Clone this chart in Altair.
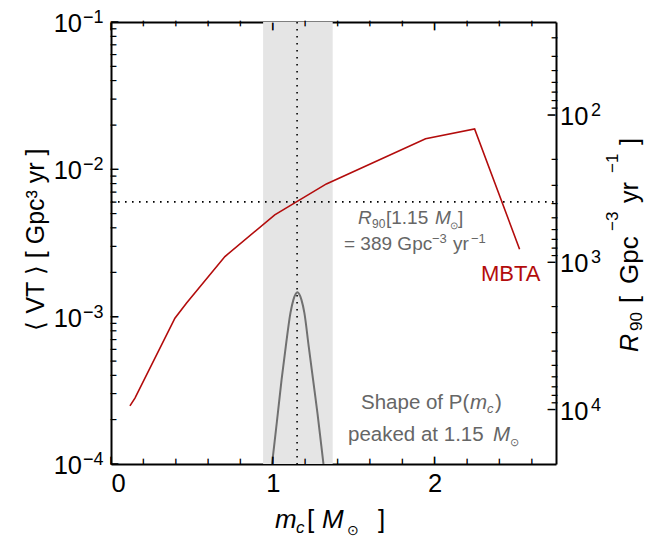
import altair as alt
import pandas as pd

# ---------------- data ----------------
mc_mbta = [0.117, 0.148, 0.395, 0.467, 0.704, 1.012, 1.331, 1.944, 2.247, 2.525]
vt_mbta = [2.48e-4, 2.80e-4, 9.77e-4, 1.24e-3, 2.56e-3, 4.91e-3, 7.96e-3, 1.615e-2, 1.88e-2, 2.87e-3]

mc_shape = [0.995, 1.008, 1.031, 1.054, 1.080, 1.109, 1.127, 1.142, 1.152, 1.162, 1.177, 1.195, 1.222, 1.249, 1.276, 1.300, 1.313]
p_shape = [1.0e-4, 1.32e-4, 2.21e-4, 3.72e-4, 6.26e-4, 1.06e-3, 1.30e-3, 1.43e-3, 1.466e-3, 1.43e-3, 1.30e-3, 1.06e-3, 6.26e-4, 3.72e-4, 2.21e-4, 1.32e-4, 1.0e-4]

band = [0.94, 1.37]
mc_peak = 1.15
r90_peak = 389
K = 2.34  # R90 = K / <VT>

x_domain = [0, 2.75]
vt_domain = [1e-4, 1e-1]
r_domain = [K / 1e-1, K / 1e-4]

x_major = [0, 1, 2]
x_minor = [0.2, 0.4, 0.6, 0.8, 1.2, 1.4, 1.6, 1.8, 2.2, 2.4, 2.6]
vt_major = [1e-4, 1e-3, 1e-2, 1e-1]
vt_exp = ["−4", "−3", "−2", "−1"]
vt_minor = [m * 10.0 ** e for e in (-4, -3, -2) for m in range(2, 10)]
r_major = [100, 1000, 10000]
r_exp = ["2", "3", "4"]
r_minor = [30, 40, 50, 60, 70, 80, 90, 200, 300, 400, 500, 600, 700, 800, 900,
           2000, 3000, 4000, 5000, 6000, 7000, 8000, 9000]

RED = "#b30c0c"
GRAY_TXT = "#666666"
FONT = "Liberation Sans"
W, H = 445, 442
MAJ, MIN = 8, 4.5          # tick lengths (px)
FS_MAJ, FS_MIN = 8.0, 4.6  # font sizes of the "|" glyph that draws them


def xs():
    return alt.Scale(domain=x_domain, nice=False, zero=False)


def ys():
    return alt.Scale(type="log", domain=vt_domain, nice=False)


def rs():
    return alt.Scale(type="log", domain=r_domain, nice=False, reverse=True)


x_axis_bottom = alt.Axis(values=x_major, orient="bottom", title=None, grid=False,
                         ticks=False, labelPadding=7, format="d")
x_axis_top = alt.Axis(orient="top", title=None, grid=False, labels=False, ticks=False)
y_axis_left = alt.Axis(orient="left", grid=False, labels=False, ticks=False,
                       title="⟨ VT ⟩ [ Gpc³ yr ]", titleAngle=270, titleX=-76, titleY=217,
                       titleAlign="center", titleBaseline="middle", titleFontSize=25)
y_axis_right = alt.Axis(orient="right", grid=False, labels=False, ticks=False, title=None)

df_mbta = pd.DataFrame({"mc": mc_mbta, "vt": vt_mbta})
df_shape = pd.DataFrame({"mc": mc_shape, "vt": p_shape})
df_band = pd.DataFrame({"lo": [band[0]], "hi": [band[1]]})
df_v = pd.DataFrame({"mc": [mc_peak]})
df_h = pd.DataFrame({"x0": [x_domain[0]], "x1": [x_domain[1]], "r": [r90_peak]})
one = pd.DataFrame({"a": [0]})

band_l = alt.Chart(df_band).mark_rect(color="#e5e5e5").encode(
    x=alt.X("lo:Q", scale=xs(), axis=x_axis_bottom), x2="hi:Q")
vline = alt.Chart(df_v).mark_rule(color="black", strokeDash=[1.6, 5.4], strokeWidth=1.6).encode(
    x=alt.X("mc:Q", scale=xs(), axis=x_axis_bottom))
mbta = alt.Chart(df_mbta).mark_line(color=RED, strokeWidth=1.6).encode(
    x=alt.X("mc:Q", scale=xs(), axis=x_axis_bottom),
    y=alt.Y("vt:Q", scale=ys(), axis=y_axis_left))
shape = alt.Chart(df_shape).mark_line(color="#707070", strokeWidth=2, clip=True,
                                      interpolate="monotone").encode(
    x=alt.X("mc:Q", scale=xs(), axis=x_axis_bottom),
    y=alt.Y("vt:Q", scale=ys(), axis=y_axis_left))


def pow_labels(vals, exps, scale, axis, x_base, x_exp):
    df = pd.DataFrame({"v": vals, "e": exps})
    base = alt.Chart(df).mark_text(text="10", font=FONT, fontSize=25.5,
                                   align="right" if x_base < 0 else "left",
                                   baseline="alphabetic", dy=10, color="black").encode(
        y=alt.Y("v:Q", scale=scale, axis=axis), x=alt.value(x_base))
    sup = alt.Chart(df).mark_text(font=FONT, fontSize=18, align="left",
                                  baseline="alphabetic", dy=1, color="black").encode(
        y=alt.Y("v:Q", scale=scale, axis=axis), x=alt.value(x_exp), text="e:N")
    return [base, sup]


# frame ticks pointing inward: a short bar glyph placed through the scales
def hticks(vals, scale, axis, xc, fs):
    return alt.Chart(pd.DataFrame({"v": vals})).mark_text(
        text="|", font=FONT, fontSize=fs, angle=90, align="center", baseline="middle",
        color="black", stroke="black", strokeWidth=0.8).encode(
        y=alt.Y("v:Q", scale=scale, axis=axis), x=alt.value(xc))


def vticks(vals, yc, fs):
    return alt.Chart(pd.DataFrame({"v": vals})).mark_text(
        text="|", font=FONT, fontSize=fs, align="center", baseline="middle",
        color="black", stroke="black", strokeWidth=0.8).encode(
        x=alt.X("v:Q", scale=xs(), axis=x_axis_bottom), y=alt.value(yc))


main = alt.layer(
    band_l, vline, shape, mbta,
    hticks(vt_major, ys(), y_axis_left, MAJ / 2, FS_MAJ),
    hticks(vt_minor, ys(), y_axis_left, MIN / 2, FS_MIN),
    vticks(x_major, H - MAJ / 2, FS_MAJ), vticks(x_minor, H - MIN / 2, FS_MIN),
    vticks(x_major, MAJ / 2, FS_MAJ), vticks(x_minor, MIN / 2, FS_MIN),
    *pow_labels(vt_major, vt_exp, ys(), y_axis_left, -29, -28),
)

hline = alt.Chart(df_h).mark_rule(color="black", strokeDash=[1.6, 5.4], strokeWidth=1.6).encode(
    x=alt.X("x0:Q", scale=xs(), axis=x_axis_top), x2="x1:Q",
    y=alt.Y("r:Q", scale=rs(), axis=y_axis_right))

right = alt.layer(
    hline,
    hticks(r_major, rs(), y_axis_right, W - MAJ / 2, FS_MAJ),
    hticks(r_minor, rs(), y_axis_right, W - MIN / 2, FS_MIN),
    *pow_labels(r_major, r_exp, rs(), y_axis_right, W + 4, W + 35),
)

# ---------------- text pieces (page px -> plot px) ----------------
OX, OY = 111, 22


def piece(txt, px, py, size, italic=False, color="black", angle=0):
    kw = dict(text=txt, font=FONT, fontSize=size, color=color, align="left",
              baseline="alphabetic")
    if italic:
        kw["fontStyle"] = "italic"
    if angle:
        kw["angle"] = angle
    return alt.Chart(one).mark_text(**kw).encode(x=alt.value(px - OX), y=alt.value(py - OY))


texts = [
    # x-axis title
    piece("m", 275, 528, 26, True),
    piece("c", 296, 533, 17, True),
    piece("[", 307, 528, 26),
    piece("M", 322, 528, 26, True),
    piece("⊙", 347, 535, 14),
    piece("]", 378, 528, 26),
    # right-axis title (rotated, reads upward)
    piece("R", 638, 352, 25, True, angle=270),
    piece("90", 642, 331, 17, angle=270),
    piece("[", 638, 303, 25, angle=270),
    piece("Gpc", 638, 284, 26, angle=270),
    piece("−3", 618, 231, 17, angle=270),
    piece("yr", 638, 203, 25, angle=270),
    piece("−1", 618, 173, 17, angle=270),
    piece("]", 638, 145, 25, angle=270),
    # annotation: R90[1.15 M]
    piece("R", 358, 224, 19, True, GRAY_TXT),
    piece("90", 372, 228, 12, False, GRAY_TXT),
    piece("[1.15", 386, 224, 19, False, GRAY_TXT),
    piece("M", 435, 224, 19, True, GRAY_TXT),
    piece("⊙", 450, 229, 10, False, GRAY_TXT),
    piece("]", 458, 224, 19, False, GRAY_TXT),
    piece("= 389 Gpc", 344, 250, 19, False, GRAY_TXT),
    piece("−3", 432, 243, 13, False, GRAY_TXT),
    piece("yr", 453, 250, 19, False, GRAY_TXT),
    piece("−1", 471, 243, 13, False, GRAY_TXT),
    # MBTA
    piece("MBTA", 481, 281, 22, False, RED),
    # shape annotation
    piece("Shape of P(", 361, 409, 20.5, False, GRAY_TXT),
    piece("m", 470, 409, 20.5, True, GRAY_TXT),
    piece("c", 487, 413, 13, True, GRAY_TXT),
    piece(")", 495, 409, 20.5, False, GRAY_TXT),
    piece("peaked at 1.15", 348, 441, 20.5, False, GRAY_TXT),
    piece("M", 493, 441, 20.5, True, GRAY_TXT),
    piece("⊙", 510, 446, 11, False, GRAY_TXT),
]

chart = alt.layer(main, right, *texts).resolve_scale(
    x="independent", y="independent").properties(
    width=W, height=H,
    autosize=alt.AutoSizeParams(type="none"),
    padding={"left": 103, "top": 14, "right": 91, "bottom": 73},
).configure_view(stroke=None).configure_axis(
    domainColor="black", domainWidth=2,
    labelFont=FONT, labelFontSize=25.5, labelColor="black",
    titleFont=FONT, titleFontWeight="normal", titleColor="black",
    labelOverlap=False,
)

chart.save("out.html", embed_options={"renderer": "svg", "actions": False})
